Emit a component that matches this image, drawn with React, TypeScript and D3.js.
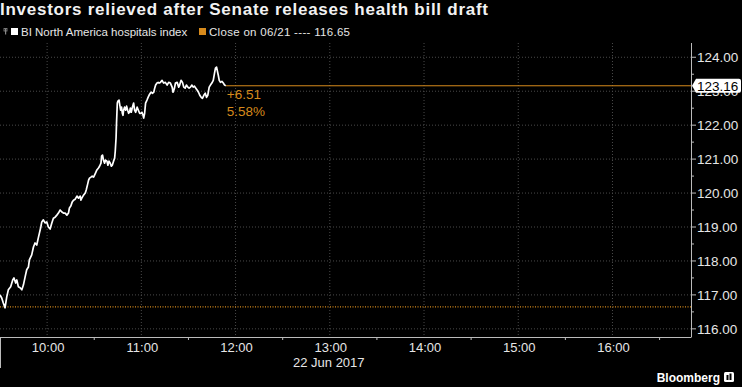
import React from "react";
import * as d3 from "d3";

const W = 742;
const H = 387;

const title = "Investors relieved after Senate releases health bill draft";
const seriesName = "BI North America hospitals index";
const closeLabel = "Close on 06/21 ---- 116.65";
const dateLabel = "22 Jun 2017";
const prevClose = 116.65;
const lastValue = 123.16;
const changeText = "+6.51";
const changePct = "5.58%";

// minutes after 09:30 open
const minutes = [
  0, 1.1, 2.1, 3.2, 4.3, 5.3, 6.8, 8.1, 8.9, 10.0, 10.7, 11.7, 12.8, 13.9, 14.9, 16.0, 17.0, 18.1, 18.7, 20.2,
  21.3, 22.3, 23.4, 24.4, 25.1, 26.0, 26.6, 27.6, 28.7, 29.8, 30.8, 31.9, 33.0, 34.0, 35.1, 36.2, 37.2, 38.3, 39.4, 40.4,
  41.5, 42.6, 43.6, 44.2, 45.1, 46.0, 46.8, 47.9, 49.0, 50.0, 51.1, 51.5, 52.1, 53.2, 54.3, 54.9, 55.7, 56.4, 57.0, 57.9,
  58.7, 59.6, 60.2, 60.8, 61.7, 62.7, 63.4, 64.3, 64.7, 65.3, 65.9, 66.6, 67.2, 68.1, 68.7, 69.4, 70.2, 70.9, 71.5, 72.3,
  73.0, 73.4, 73.9, 74.2, 74.7, 75.1, 75.8, 76.1, 76.8, 77.4, 77.9, 78.3, 78.7, 79.3, 80.0, 80.6, 81.3, 81.9, 82.5, 83.0,
  83.6, 84.3, 85.1, 85.7, 86.4, 87.3, 88.1, 88.9, 89.8, 90.4, 91.1, 91.5, 92.1, 92.7, 93.6, 94.3, 94.9, 95.7, 96.4, 97.0,
  97.9, 98.5, 99.1, 100.0, 100.7, 101.3, 102.1, 103.2, 104.2, 105.3, 106.4, 107.4, 108.5, 109.6, 110.2, 111.1, 111.7, 112.8, 113.8, 114.4,
  115.3, 116.2, 117.0, 117.9, 118.7, 119.6, 120.4, 121.3, 122.1, 123.0, 123.8, 124.7, 125.6, 126.4, 127.2, 128.1, 128.9, 129.8, 130.7, 131.5,
  132.3, 133.2, 134.0, 134.9, 135.8, 136.6, 137.2, 137.9, 138.3, 139.0, 139.6, 140.4, 141.3, 142.2, 143.0, 143.8,
];

const values = [
  117.0, 116.91, 116.76, 116.62, 116.94, 117.15, 117.24, 117.44, 117.5, 117.35, 117.44, 117.24, 117.21, 117.15, 117.29, 117.53, 117.74, 117.82, 118.03, 118.18,
  118.41, 118.53, 118.47, 118.68, 118.82, 119.0, 119.15, 119.21, 119.12, 119.15, 119.0, 118.94, 119.12, 119.26, 119.29, 119.35, 119.41, 119.5, 119.44, 119.41,
  119.41, 119.35, 119.41, 119.56, 119.62, 119.74, 119.79, 119.82, 119.91, 119.85, 119.91, 119.79, 119.85, 119.94, 120.0, 120.09, 120.24, 120.38, 120.44, 120.47,
  120.5, 120.47, 120.53, 120.59, 120.68, 120.74, 120.79, 120.88, 121.09, 121.12, 120.97, 120.88, 120.97, 120.94, 120.82, 120.94, 120.88, 120.79, 120.82, 120.94,
  121.03, 121.24, 121.62, 122.06, 122.65, 122.71, 122.74, 122.65, 122.44, 122.53, 122.35, 122.29, 122.44, 122.53, 122.44, 122.56, 122.44, 122.35, 122.38, 122.5,
  122.38, 122.53, 122.65, 122.44, 122.38, 122.53, 122.44, 122.35, 122.35, 122.38, 122.29, 122.21, 122.35, 122.65, 122.74, 122.82, 122.88, 122.94, 122.97, 122.94,
  122.97, 123.09, 123.18, 123.24, 123.26, 123.24, 123.26, 123.32, 123.24, 123.26, 123.18, 123.26, 123.24, 123.12, 122.97, 123.09, 123.24, 123.26, 123.12, 123.18,
  123.32, 123.26, 123.12, 123.09, 123.18, 123.12, 123.09, 123.12, 123.18, 123.12, 123.15, 123.09, 123.03, 122.97, 122.88, 122.82, 122.79, 122.88, 122.94, 122.82,
  122.88, 123.12, 123.18, 123.24, 123.32, 123.53, 123.68, 123.71, 123.62, 123.47, 123.32, 123.26, 123.29, 123.24, 123.18, 123.16,
];

const yTicks = [116, 117, 118, 119, 120, 121, 122, 123, 124];

const openTime = new Date(2017, 5, 22, 9, 30);
const endTime = new Date(2017, 5, 22, 16, 50);

const ORANGE = "#d68a1c";
const GRID = "#4a4a4a";
const TEXT = "#e6e6e6";
const FONT = "'Liberation Sans', Arial, sans-serif";

export default function App() {
  const plotLeft = 0;
  const plotRight = 691;
  const plotTop = 43;
  const plotBottom = 337;

  const x = d3.scaleTime().domain([openTime, endTime]).range([plotLeft, plotRight]);
  const y = d3.scaleLinear().domain([115.76, 124.42]).range([plotBottom, plotTop]);

  const pts = minutes.map((m, i) => ({ t: new Date(openTime.getTime() + m * 60000), v: values[i] }));
  const line = d3
    .line<{ t: Date; v: number }>()
    .x((d) => x(d.t))
    .y((d) => y(d.v));

  const hourTicks = x.ticks(d3.timeHour.every(1)!).filter((d) => x(d) > 5 && x(d) < plotRight - 5);
  const halfTicks = x.ticks(d3.timeMinute.every(30)!).filter((d) => d.getMinutes() === 30 && x(d) > 5 && x(d) < plotRight);
  const fmt = d3.timeFormat("%H:%M");
  const yMinor = d3.range(116.5, 124.5, 1).filter((v) => y(v) > plotTop);

  const lastPt = pts[pts.length - 1];
  const lastX = x(lastPt.t);
  const lastY = y(lastValue);
  const closeY = y(prevClose);

  const boxL = plotRight + 5;
  const boxR = 741;
  const boxT = lastY - 7;
  const boxB = lastY + 7;
  const labelPath = `M${plotRight + 1},${lastY} L${boxL},${boxT} L${boxR - 2},${boxT} Q${boxR},${boxT} ${boxR},${boxT + 2} L${boxR},${boxB - 2} Q${boxR},${boxB} ${boxR - 2},${boxB} L${boxL},${boxB} Z`;

  return (
    <svg
      width={W}
      height={H}
      style={{ position: "absolute", left: 0, top: 0, background: "#000", fontFamily: FONT }}
    >
      <rect x={0} y={0} width={W} height={H} fill="#000" />
      {/* Title */}
      <text x={0} y={15} fill="#f2f2f2" fontSize={17} fontWeight="bold" textLength={488} lengthAdjust="spacing">
        {title}
      </text>
      {/* Legend */}
      <g>
        <rect x={5} y={28.5} width={1.2} height={6} fill="#888" />
        <rect x={4} y={28.5} width={3} height={2.5} fill="none" stroke="#888" strokeWidth={0.8} />
        <rect x={11} y={28} width={7} height={7} fill="#fff" />
        <text x={21} y={35.5} fill={TEXT} fontSize={11.5}>
          {seriesName}
        </text>
        <rect x={199} y={28} width={7} height={7} fill={ORANGE} />
        <text x={209} y={35.5} fill={TEXT} fontSize={11.5} textLength={141} lengthAdjust="spacing">
          {closeLabel}
        </text>
      </g>

      {/* Grid */}
      {yTicks.map((v) => (
        <line
          key={"gy" + v}
          x1={plotLeft}
          x2={plotRight}
          y1={y(v)}
          y2={y(v)}
          stroke={GRID}
          strokeWidth={1}
          strokeDasharray="1,2"
        />
      ))}
      {hourTicks.map((d) => (
        <line
          key={"gx" + d.getTime()}
          x1={x(d)}
          x2={x(d)}
          y1={plotTop}
          y2={plotBottom}
          stroke={GRID}
          strokeWidth={1}
          strokeDasharray="1,2"
        />
      ))}

      {/* Previous close dotted line */}
      <line
        x1={plotLeft}
        x2={plotRight}
        y1={closeY}
        y2={closeY}
        stroke={ORANGE}
        strokeWidth={1.3}
        strokeDasharray="1,1.5"
      />

      {/* Last value line */}
      <line x1={lastX} x2={plotRight} y1={lastY} y2={lastY} stroke={ORANGE} strokeWidth={1} />

      {/* Series */}
      <path d={line(pts) || ""} fill="none" stroke="#fff" strokeWidth={1.7} strokeLinejoin="round" />

      {/* Change annotation */}
      <text x={lastX + 1} y={98.5} fill={ORANGE} fontSize={13.5}>
        {changeText}
      </text>
      <text x={lastX + 1} y={115.5} fill={ORANGE} fontSize={13.5}>
        {changePct}
      </text>

      {/* Axes */}
      <line x1={plotRight + 0.5} x2={plotRight + 0.5} y1={plotTop} y2={plotBottom} stroke="#bbb" strokeWidth={1} />
      <line x1={plotLeft} x2={plotRight + 0.5} y1={plotBottom + 0.5} y2={plotBottom + 0.5} stroke="#bbb" strokeWidth={1} />
      <line x1={0.5} x2={0.5} y1={plotBottom} y2={368} stroke="#bbb" strokeWidth={1} />

      {yTicks.map((v) => (
        <g key={"yt" + v}>
          <line x1={plotRight} x2={plotRight + 5} y1={y(v)} y2={y(v)} stroke="#bbb" />
          <text x={plotRight + 6} y={y(v) + 5} fill={TEXT} fontSize={13.5}>
            {d3.format(".2f")(v)}
          </text>
        </g>
      ))}
      {yMinor.map((v) => (
        <line key={"ym" + v} x1={plotRight} x2={plotRight + 3} y1={y(v)} y2={y(v)} stroke="#bbb" />
      ))}

      {halfTicks.map((d) => (
        <line key={"xh" + d.getTime()} x1={x(d)} x2={x(d)} y1={plotBottom} y2={plotBottom + 3} stroke="#bbb" />
      ))}
      {hourTicks.map((d) => (
        <text key={"xl" + d.getTime()} x={x(d) + 1} y={352} fill={TEXT} fontSize={13}>
          <tspan textAnchor="middle">{fmt(d)}</tspan>
        </text>
      ))}
      <text x={x(new Date(2017, 5, 22, 13, 0)) - 1} y={367} fill={TEXT} fontSize={13} textAnchor="middle">
        {dateLabel}
      </text>

      {/* Last value label */}
      <path d={labelPath} fill="#fff" />
      <text x={boxL + 1} y={lastY + 5} fill="#000" fontSize={13.5}>
        {lastValue.toFixed(2)}
      </text>

      {/* Bloomberg */}
      <text x={720} y={382} fill="#fff" fontSize={12} fontWeight="bold" textAnchor="end">
        Bloomberg
      </text>
      <rect x={724} y={372} width={10} height={10} rx={1.5} fill="#fff" />
      <rect x={726.5} y={375} width={2} height={5} fill="#000" />
      <rect x={729.5} y={373.5} width={2} height={6.5} fill="#000" />
    </svg>
  );
}
